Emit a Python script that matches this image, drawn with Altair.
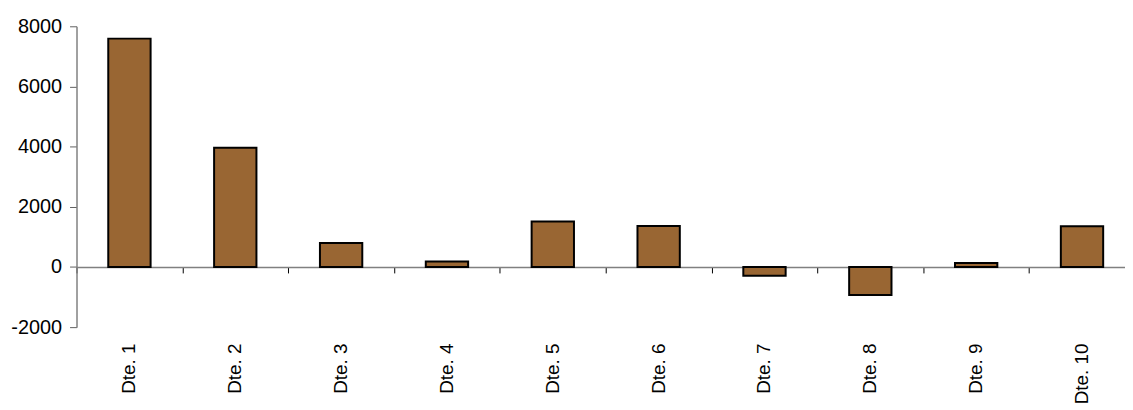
import altair as alt
import pandas as pd

categories = ["Dte. 1", "Dte. 2", "Dte. 3", "Dte. 4", "Dte. 5",
              "Dte. 6", "Dte. 7", "Dte. 8", "Dte. 9", "Dte. 10"]
values = [7590, 3960, 800, 180, 1510, 1365, -290, -935, 130, 1355]
y_ticks = [-2000, 0, 2000, 4000, 6000, 8000]

df = pd.DataFrame({"cat": categories, "value": values})

PLOT_H = 303
FONT = "Liberation Sans, Arial, sans-serif"

x_scale = alt.Scale(range=[0, 1066], paddingInner=0, paddingOuter=0)
y_scale = alt.Scale(domain=[-2000, 8000], nice=False)

label_axis = alt.Axis(
    title=None, orient="bottom", labelAngle=-90, labelFontSize=19,
    labelFont=FONT, labelColor="#000000", labelPadding=16, ticks=False,
    tickSize=0, domain=False, grid=False,
)
zero_axis = alt.Axis(
    title=None, orient="bottom", labels=False, domain=True,
    domainColor="#808080", domainWidth=1.5, ticks=True, tickBand="extent",
    tickSize=6, tickColor="#000000", tickWidth=1, grid=False,
    offset=-PLOT_H * 0.2,
)
y_axis = alt.Axis(
    title=None, orient="left", values=y_ticks, labelFontSize=20,
    labelFont=FONT, labelColor="#000000", tickSize=7, tickColor="#606060",
    labelPadding=8, domainColor="#808080", domainWidth=1.5, grid=False,
    labelExpr="'' + datum.value",
)

bars = alt.Chart(df).mark_bar(
    fill="#996633", stroke="#000000", strokeWidth=2,
    width=alt.RelativeBandSize(0.4),
).encode(
    x=alt.X("cat:N", sort=None, scale=x_scale, axis=label_axis),
    y=alt.Y("value:Q", scale=y_scale, axis=y_axis),
)

zero = alt.Chart(df).mark_bar(opacity=0).encode(
    x=alt.X("cat:N", sort=None, scale=x_scale, axis=zero_axis),
    y=alt.Y("value:Q", scale=y_scale, axis=y_axis),
)

chart = alt.layer(zero, bars).resolve_axis(x="independent").properties(
    width=1056, height=PLOT_H,
    padding={"left": 69, "top": 17, "right": 0, "bottom": 76},
    autosize=alt.AutoSizeParams(type="none"),
).configure_view(stroke=None)

chart.save("out.html", embed_options={"renderer": "svg", "actions": False})
